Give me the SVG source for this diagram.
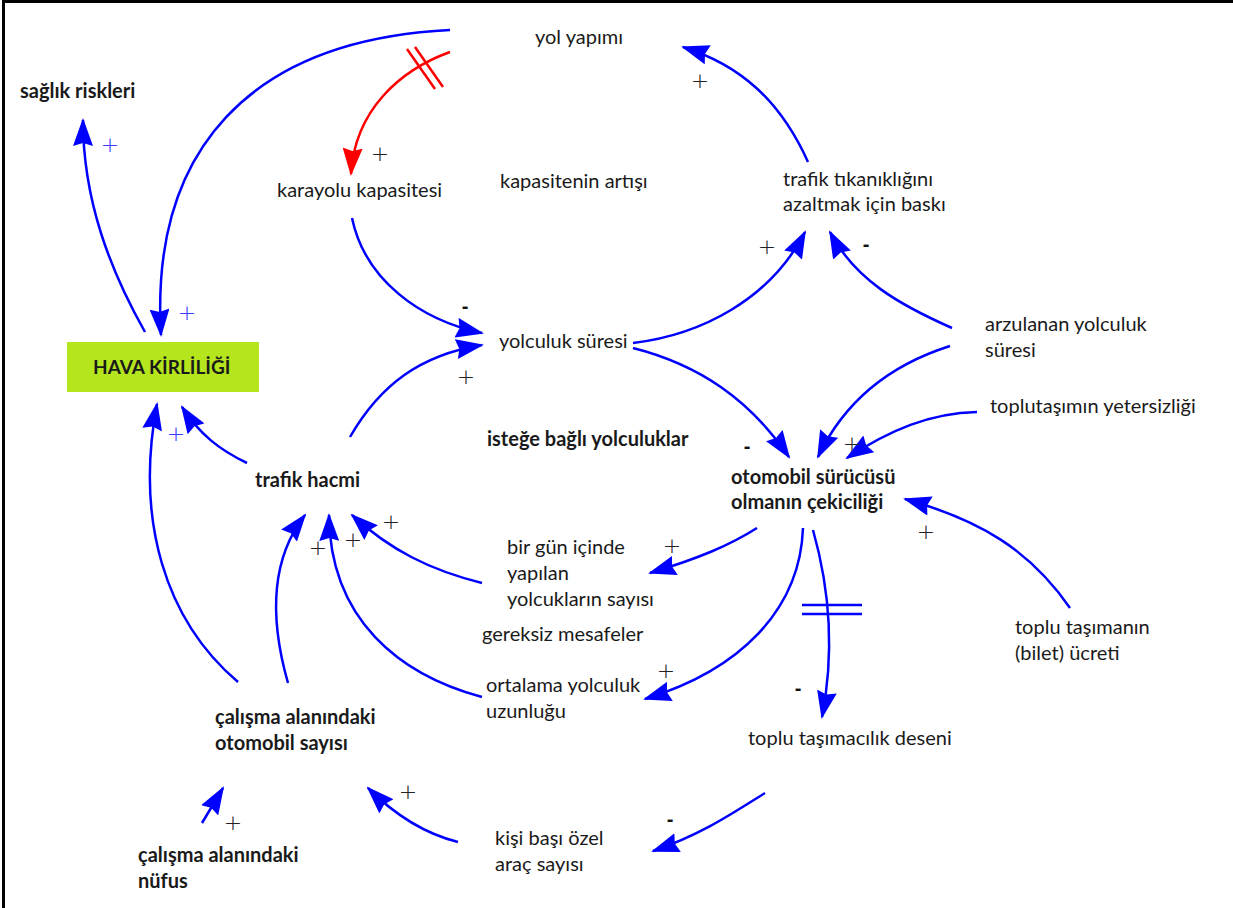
<svg xmlns="http://www.w3.org/2000/svg" width="1233" height="908" viewBox="0 0 1233 908">
<defs>
<style>
.t{font-family:Lato,"Open Sans","Liberation Sans",sans-serif;font-size:20px;fill:#1a1a1a}
.b{font-weight:bold}
.c{fill:none;stroke:#0000ff;stroke-width:2.5;marker-end:url(#ah)}
.r{fill:none;stroke:#ff0000;stroke-width:2.5;marker-end:url(#ahr)}
.p{font-family:"DejaVu Sans",sans-serif;font-weight:200;font-size:22px;fill:#222;text-anchor:middle}
.pb{fill:#3c3cff}
.m{font-family:"Liberation Sans",sans-serif;font-weight:bold;font-size:20px;fill:#111;text-anchor:middle}
</style>
<marker id="ah" viewBox="0 0 28 20" refX="26" refY="10" markerWidth="28" markerHeight="20" markerUnits="userSpaceOnUse" orient="auto">
<path d="M0,0 L28,10 L0,20 L3,10 z" fill="#0000ff"/>
</marker>
<marker id="ahr" viewBox="0 0 28 20" refX="26" refY="10" markerWidth="28" markerHeight="20" markerUnits="userSpaceOnUse" orient="auto">
<path d="M0,0 L28,10 L0,20 L3,10 z" fill="#ff0000"/>
</marker>
</defs>
<rect x="0" y="0" width="1233" height="908" fill="#ffffff"/>
<path d="M3.5,908 V1.5 H1233" fill="none" stroke="#000" stroke-width="3"/>

<g id="connectors">
<path class="c" d="M808,162 C780,100 740,65 683,47"/>
<path class="c" d="M450,30 C250,40 150,150 161,335"/>
<path class="c" d="M145,332 C110,270 83,200 83,120"/>
<path class="r" d="M450,52 C400,70 355,110 351,174"/>
<path d="M407,49 L435,89 M415,47 L443,87" stroke="#ff0000" stroke-width="2.5" fill="none"/>
<path class="c" d="M352,218 C365,280 420,320 482,333"/>
<path class="c" d="M350,437 C380,385 420,355 482,345"/>
<path class="c" d="M633,343 C700,335 770,300 805,232"/>
<path class="c" d="M952,328 C900,305 855,280 830,232"/>
<path class="c" d="M633,348 C700,365 750,400 789,457"/>
<path class="c" d="M950,346 C890,365 845,400 818,457"/>
<path class="c" d="M977,412 C930,413 890,430 847,458"/>
<path class="c" d="M1070,608 C1030,550 980,520 905,499"/>
<path class="c" d="M757,528 C730,545 700,558 650,573"/>
<path class="c" d="M803,528 C800,610 740,670 645,699"/>
<path class="c" d="M813,530 C830,590 835,650 822,717"/>
<path d="M802,605 H862 M802,614 H862" stroke="#0000ff" stroke-width="2.5" fill="none"/>
<path class="c" d="M765,793 C730,815 700,835 653,851"/>
<path class="c" d="M458,842 C430,835 400,820 368,788"/>
<path class="c" d="M202,823 L223,788"/>
<path class="c" d="M238,682 C165,620 135,520 157,404"/>
<path class="c" d="M247,463 C220,450 200,435 182,407"/>
<path class="c" d="M288,683 C270,620 270,560 305,515"/>
<path class="c" d="M482,697 C400,675 330,620 329,515"/>
<path class="c" d="M482,583 C430,570 390,550 352,515"/>
</g>

<g id="polarities">
<text class="p" x="700" y="88">+</text>
<text class="p pb" x="110" y="152">+</text>
<text class="p" x="380" y="161">+</text>
<text class="p pb" x="187" y="320">+</text>
<text class="m" x="465" y="313">-</text>
<text class="p" x="466" y="384">+</text>
<text class="p" x="767" y="254">+</text>
<text class="m" x="866" y="251">-</text>
<text class="m" x="747" y="453">-</text>
<text class="p" x="852" y="451">+</text>
<text class="p" x="926" y="539">+</text>
<text class="p" x="672" y="553">+</text>
<text class="p" x="666" y="678">+</text>
<text class="m" x="798" y="695">-</text>
<text class="m" x="670" y="826">-</text>
<text class="p" x="408" y="799">+</text>
<text class="p" x="233" y="830">+</text>
<text class="p pb" x="176" y="441">+</text>
<text class="p" x="318" y="555">+</text>
<text class="p" x="353" y="547">+</text>
<text class="p" x="391" y="529">+</text>
</g>

<g id="saglik"><text class="t b" x="20" y="98">sağlık riskleri</text></g>
<g id="yolyapimi"><text class="t" x="535" y="44">yol yapımı</text></g>
<g id="karayolu"><text class="t" x="277" y="197">karayolu kapasitesi</text></g>
<g id="kapasitenin"><text class="t" x="500" y="188">kapasitenin artışı</text></g>
<g id="trafiktik"><text class="t" x="783" y="186">trafik tıkanıklığını</text><text class="t" x="783" y="211">azaltmak için baskı</text></g>
<g id="yolculuksuresi"><text class="t" x="499" y="348">yolculuk süresi</text></g>
<g id="arzulanan"><text class="t" x="985" y="331">arzulanan yolculuk</text><text class="t" x="985" y="357">süresi</text></g>
<g id="toplutasimin"><text class="t" x="990" y="413">toplutaşımın yetersizliği</text></g>
<g id="hava"><rect x="67" y="342" width="192" height="50" fill="#b5e61d"/><text class="t b" x="93" y="374" style="font-size:19px">HAVA KİRLİLİĞİ</text></g>
<g id="istege"><text class="t b" x="487" y="446">isteğe bağlı yolculuklar</text></g>
<g id="trafikhacmi"><text class="t b" x="255" y="487">trafik hacmi</text></g>
<g id="otomobil"><text class="t b" x="731" y="484">otomobil sürücüsü</text><text class="t b" x="731" y="509">olmanın çekiciliği</text></g>
<g id="birgun"><text class="t" x="507" y="554">bir gün içinde</text><text class="t" x="507" y="580">yapılan</text><text class="t" x="507" y="606">yolcukların sayısı</text></g>
<g id="gereksiz"><text class="t" x="482" y="641">gereksiz mesafeler</text></g>
<g id="ortalama"><text class="t" x="486" y="692">ortalama yolculuk</text><text class="t" x="486" y="718">uzunluğu</text></g>
<g id="toplutasimacilik"><text class="t" x="748" y="745">toplu taşımacılık deseni</text></g>
<g id="bilet"><text class="t" x="1015" y="634">toplu taşımanın</text><text class="t" x="1015" y="660">(bilet) ücreti</text></g>
<g id="calismaoto"><text class="t b" x="215" y="724">çalışma alanındaki</text><text class="t b" x="215" y="750">otomobil sayısı</text></g>
<g id="kisibasi"><text class="t" x="495" y="845">kişi başı özel</text><text class="t" x="495" y="871">araç sayısı</text></g>
<g id="nufus"><text class="t b" x="138" y="862">çalışma alanındaki</text><text class="t b" x="138" y="888">nüfus</text></g>
</svg>
